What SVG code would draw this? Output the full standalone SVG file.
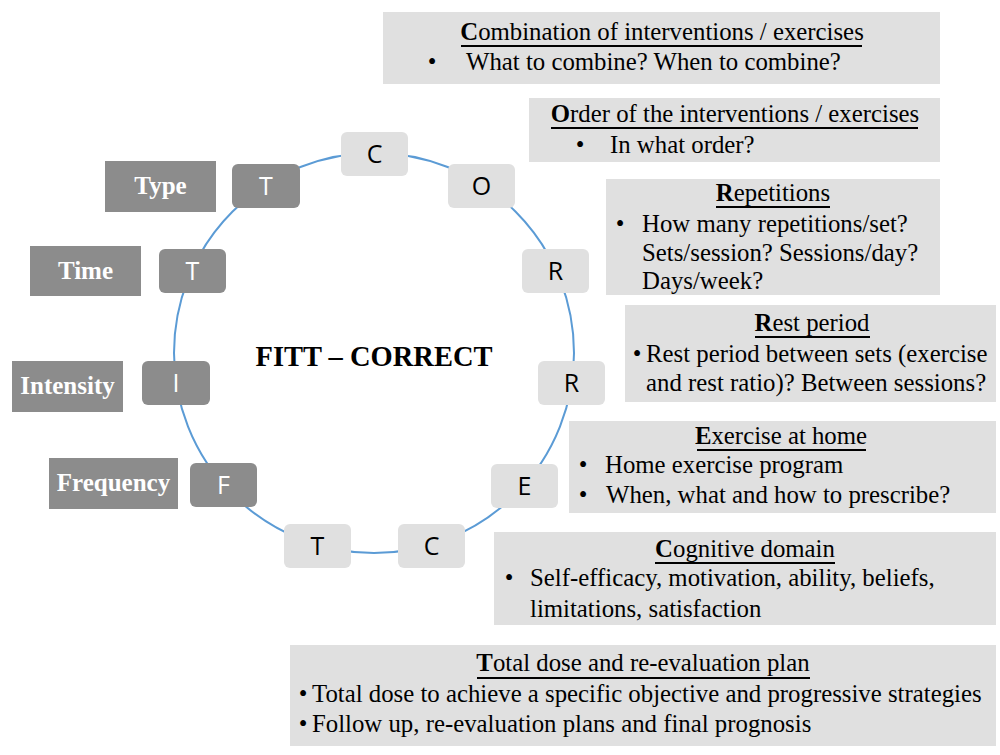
<svg xmlns="http://www.w3.org/2000/svg" width="1000" height="755" viewBox="0 0 1000 755">
<style>
.box{fill:#e0e0e0}
.lab{fill:#8c8c8c}
.nl{fill:#e0e0e0}
.nd{fill:#8c8c8c}
.lt{font-family:"Liberation Serif","Times New Roman",serif;font-weight:bold;font-size:25px;fill:#fff;text-anchor:middle}
.nt{font-family:"Open Sans","Noto Sans","Liberation Sans",sans-serif;font-size:25px;text-anchor:middle;fill:#000}
.ntw{fill:#fff}
.t{font-family:"Liberation Serif","Times New Roman",serif;font-size:24.8px;fill:#000}
.ti{text-anchor:middle}
.ul{stroke:#000;stroke-width:2}
</style>
<rect width="1000" height="755" fill="#fff"/>
<g id="connectors">
<circle cx="374" cy="353" r="200" fill="none" stroke="#5b9bd5" stroke-width="2"/>
</g>
<text x="374" y="366" class="t" style="font-weight:bold;font-size:28.5px" text-anchor="middle">FITT – CORRECT</text>
<g id="node-C1"><rect x="341" y="132" width="67" height="44" rx="6" class="nl"/><text x="374.5" y="163" class="nt">C</text></g>
<g id="node-O"><rect x="448" y="164" width="67" height="44" rx="6" class="nl"/><text x="481.5" y="195" class="nt">O</text></g>
<g id="node-R1"><rect x="522" y="249" width="67" height="44" rx="6" class="nl"/><text x="555.5" y="280" class="nt">R</text></g>
<g id="node-R2"><rect x="538" y="361" width="67" height="44" rx="6" class="nl"/><text x="571.5" y="392" class="nt">R</text></g>
<g id="node-E"><rect x="491" y="464" width="67" height="44" rx="6" class="nl"/><text x="524.5" y="495" class="nt">E</text></g>
<g id="node-C2"><rect x="398" y="524" width="67" height="44" rx="6" class="nl"/><text x="431.5" y="555" class="nt">C</text></g>
<g id="node-T3"><rect x="284" y="524" width="67" height="44" rx="6" class="nl"/><text x="317.5" y="555" class="nt">T</text></g>
<g id="node-F"><rect x="190" y="463" width="67" height="44" rx="6" class="nd"/><text x="223.5" y="494" class="nt ntw">F</text></g>
<g id="node-I"><rect x="142" y="361" width="68" height="44" rx="6" class="nd"/><text x="176" y="392" class="nt ntw">I</text></g>
<g id="node-T2"><rect x="159" y="249" width="67" height="44" rx="6" class="nd"/><text x="192.5" y="280" class="nt ntw">T</text></g>
<g id="node-T1"><rect x="232" y="164" width="68" height="44" rx="6" class="nd"/><text x="266" y="195" class="nt ntw">T</text></g>
<g id="label-type"><rect x="105" y="161" width="111" height="51" class="lab"/><text x="160.5" y="194" class="lt">Type</text></g>
<g id="label-time"><rect x="30" y="246" width="111" height="50" class="lab"/><text x="85.5" y="279" class="lt">Time</text></g>
<g id="label-intensity"><rect x="12" y="361" width="111" height="51" class="lab"/><text x="67.5" y="394" class="lt">Intensity</text></g>
<g id="label-frequency"><rect x="49" y="458" width="129" height="51" class="lab"/><text x="113.5" y="491" class="lt">Frequency</text></g>
<g id="box-combination">
<rect x="383" y="12" width="557" height="72" class="box"/>
<text x="662" y="40" class="t ti"><tspan font-weight="bold">C</tspan>ombination of interventions / exercises</text>
<line x1="461" y1="46" x2="862" y2="46" class="ul"/>
<text x="432" y="70" class="t ti">•</text>
<text x="466" y="70" class="t">What to combine? When to combine?</text>
</g>
<g id="box-order">
<rect x="529" y="98" width="411" height="64" class="box"/>
<text x="735" y="122" class="t ti"><tspan font-weight="bold">O</tspan>rder of the interventions / exercises</text>
<line x1="551" y1="128" x2="918" y2="128" class="ul"/>
<text x="580" y="153" class="t ti">•</text>
<text x="610" y="153" class="t">In what order?</text>
</g>
<g id="box-repetitions">
<rect x="606" y="179" width="334" height="116" class="box"/>
<text x="773" y="201" class="t ti"><tspan font-weight="bold">R</tspan>epetitions</text>
<line x1="716" y1="207" x2="830" y2="207" class="ul"/>
<text x="620" y="232" class="t ti">•</text>
<text x="642" y="232" class="t">How many repetitions/set?</text>
<text x="642" y="261" class="t">Sets/session? Sessions/day?</text>
<text x="642" y="289" class="t">Days/week?</text>
</g>
<g id="box-rest">
<rect x="625" y="305" width="371" height="97" class="box"/>
<text x="812" y="331" class="t ti"><tspan font-weight="bold">R</tspan>est period</text>
<line x1="755" y1="337" x2="870" y2="337" class="ul"/>
<text x="637" y="362" class="t ti">•</text>
<text x="646" y="362" class="t">Rest period between sets (exercise</text>
<text x="646" y="391" class="t">and rest ratio)? Between sessions?</text>
</g>
<g id="box-exercise">
<rect x="569" y="421" width="427" height="92" class="box"/>
<text x="781" y="444" class="t ti"><tspan font-weight="bold">E</tspan>xercise at home</text>
<line x1="697" y1="450" x2="866" y2="450" class="ul"/>
<text x="583" y="473" class="t ti">•</text>
<text x="605" y="473" class="t">Home exercise program</text>
<text x="583" y="503" class="t ti">•</text>
<text x="606" y="503" class="t">When, what and how to prescribe?</text>
</g>
<g id="box-cognitive">
<rect x="494" y="532" width="502" height="93" class="box"/>
<text x="745" y="557" class="t ti"><tspan font-weight="bold">C</tspan>ognitive domain</text>
<line x1="655" y1="563" x2="835" y2="563" class="ul"/>
<text x="509" y="586" class="t ti">•</text>
<text x="530" y="586" class="t">Self-efficacy, motivation, ability, beliefs,</text>
<text x="530" y="617" class="t">limitations, satisfaction</text>
</g>
<g id="box-total">
<rect x="290" y="645" width="706" height="101" class="box"/>
<text x="643" y="671" class="t ti"><tspan font-weight="bold">T</tspan>otal dose and re-evaluation plan</text>
<line x1="477" y1="678" x2="810" y2="678" class="ul"/>
<text x="303" y="702" class="t ti">•</text>
<text x="312" y="702" class="t">Total dose to achieve a specific objective and progressive strategies</text>
<text x="303" y="732" class="t ti">•</text>
<text x="312" y="732" class="t">Follow up, re-evaluation plans and final prognosis</text>
</g>
</svg>
